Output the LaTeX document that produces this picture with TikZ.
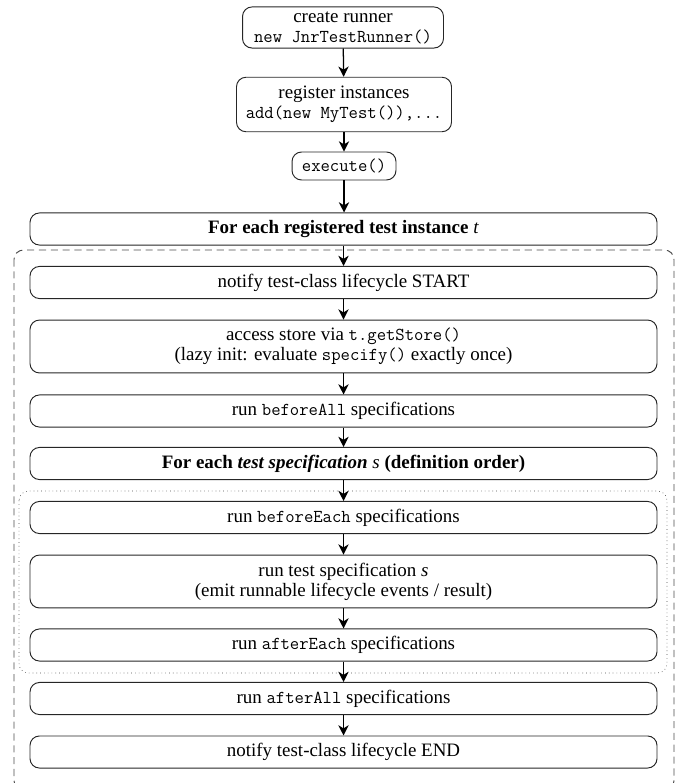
\documentclass[tikz,border=0pt]{standalone}
\usepackage{fontspec}
\setmainfont{Liberation Serif}
\usetikzlibrary{arrows.meta}
\newcommand\cde[1]{{\fontsize{11.5}{12.7}\selectfont\ttfamily #1}}
\begin{document}
\begin{tikzpicture}[x=0.633pt,y=-0.633pt,
  box/.style={draw=black!85, semithick, rounded corners=6pt, align=center,
    inner sep=0pt, font=\fontsize{12}{12.7}\selectfont},
  wide/.style={box, minimum width=396.9pt, minimum height=20.3pt},
  widetwo/.style={box, minimum width=396.9pt, minimum height=33.5pt},
  flow/.style={thick, -{Stealth[length=6.5pt,width=6.5pt,inset=2pt]}},
  outer/.style={draw=black!70, semithick, dash pattern=on 4.5pt off 3pt, rounded corners=6pt},
  inner/.style={draw=black!70, dotted, rounded corners=6pt}]
\useasboundingbox (0,0) rectangle (677,783);
\clip (0,0) rectangle (677,783);
% loop frames
\draw[outer] (14,250) rectangle (674,790);
\draw[inner] (19,491) rectangle (667,673);
% nodes
\node[box, minimum width=127.2pt, minimum height=26pt] (n1) at (343,27.5)
  {create runner\\\cde{new JnrTestRunner()}};
\node[box, minimum width=136.1pt, minimum height=34.5pt] (n2) at (344,104.5)
  {register instances\\\cde{add(new MyTest()),...}};
\node[box, minimum width=65.8pt, minimum height=17.7pt] (n3) at (344,166)
  {\cde{execute()}};
\node[wide] (n4) at (343.5,229) {\textbf{For each registered test instance {\mdseries\itshape t}}};
\node[wide] (n5) at (343.5,282.5) {notify test-class lifecycle START};
\node[widetwo] (n6) at (343.5,346.5)
  {access store via \cde{t.getStore()}\\(lazy init: evaluate \cde{specify()} exactly once)};
\node[wide] (n7) at (343.5,411) {run \cde{beforeAll} specifications};
\node[wide] (n8) at (343.5,463.5)
  {\textbf{For each \textit{test specification} {\mdseries\itshape s} (definition order)}};
\node[wide] (n9) at (343.5,517.5) {run \cde{beforeEach} specifications};
\node[widetwo] (n10) at (343.5,581.5)
  {run test specification \textit{s}\\(emit runnable lifecycle events / result)};
\node[wide] (n11) at (343.5,645) {run \cde{afterEach} specifications};
\node[wide] (n12) at (343.5,698.5) {run \cde{afterAll} specifications};
\node[wide] (n13) at (343.5,752) {notify test-class lifecycle END};
% connectors
\draw[flow] (n1) -- (n2);
\draw[flow] (n2) -- (n3);
\draw[flow] (n3.south) -- (n3.south |- n4.north);
\draw[flow] (n4) -- (n5);
\draw[flow] (n5) -- (n6);
\draw[flow] (n6) -- (n7);
\draw[flow] (n7) -- (n8);
\draw[flow] (n8) -- (n9);
\draw[flow] (n9) -- (n10);
\draw[flow] (n10) -- (n11);
\draw[flow] (n11) -- (n12);
\draw[flow] (n12) -- (n13);
\end{tikzpicture}
\end{document}
